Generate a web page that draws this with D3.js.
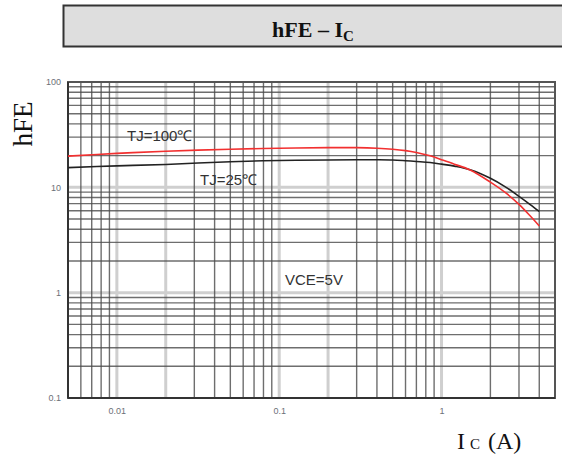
<!DOCTYPE html>
<html><head><meta charset="utf-8">
<script src="https://cdn.jsdelivr.net/npm/d3@7"></script>
<style>body{margin:0;background:#fff;}svg{display:block;}</style>
</head><body>
<svg id="c" width="562" height="458"></svg>
<script>
// ---- data ----
const icValues = [0.005, 0.01, 0.02, 0.05, 0.1, 0.2, 0.3, 0.4, 0.5, 0.6, 0.7, 0.85, 1.0, 1.2, 1.5, 2, 2.5, 3, 3.5, 4];
const hfeTj100 = [19.8, 21, 22, 23, 23.5, 23.8, 23.8, 23.5, 23, 22.3, 21.4, 19.9, 18.3, 16.6, 14.6, 11.2, 8.8, 6.9, 5.4, 4.3];
const hfeTj25  = [15.4, 16, 16.5, 17.5, 18, 18.2, 18.3, 18.3, 18.2, 17.9, 17.6, 17.2, 16.6, 15.9, 14.7, 12.2, 10.0, 8.2, 6.9, 5.9];
const xTickValues = [0.01, 0.1, 1];
const xTickLabels = ["0.01", "0.1", "1"];
const yTickValues = [0.1, 1, 10, 100];
const yTickLabels = ["0.1", "1", "10", "100"];
const xDomain = [0.005, 5];
const yDomain = [0.1, 100];
const seriesNames = ["TJ=100\u2103", "TJ=25\u2103"];
const conditionLabel = "VCE=5V";

// ---- layout ----
const svg = d3.select("#c");
const L = 68, R = 555, T = 82, B = 398;
const x = d3.scaleLog().domain(xDomain).range([L, R]);
const y = d3.scaleLog().domain(yDomain).range([B, T]);

// title box
svg.append("rect").attr("x", 63.5).attr("y", 5.5).attr("width", 505).attr("height", 41)
  .attr("fill", "#dedede").attr("stroke", "#333").attr("stroke-width", 2);
const title = svg.append("text").attr("x", 313).attr("y", 37).attr("text-anchor", "middle")
  .attr("font-family", "Liberation Serif, Times New Roman, serif").attr("font-weight", "bold")
  .attr("font-size", 22).attr("fill", "#111");
title.append("tspan").text("hFE \u2013 I");
title.append("tspan").attr("font-size", 15).attr("dy", 4).text("C");

// grid values
function minorVals(dom) {
  const v = [];
  for (let e = -4; e <= 3; e++) for (let k = 1; k <= 9; k++) {
    const val = +(k * Math.pow(10, e)).toPrecision(3);
    if (val > dom[0] * 1.0001 && val < dom[1] * 0.9999) v.push(val);
  }
  return v;
}
const isDecade = v => Math.abs(Math.log10(v) - Math.round(Math.log10(v))) < 1e-6;
const xLight = v => isDecade(v) || Math.abs(v - 0.02) < 1e-9 || Math.abs(v - 0.2) < 1e-9;
const yLight = v => isDecade(v);

const g = svg.append("g");
const xs = minorVals(xDomain), ys = minorVals(yDomain);
g.selectAll(".vl").data(xs.filter(xLight)).enter().append("line")
  .attr("x1", d => x(d)).attr("x2", d => x(d)).attr("y1", T).attr("y2", B)
  .attr("stroke", "#cfcfcf").attr("stroke-width", 3);
g.selectAll(".hl").data(ys.filter(yLight)).enter().append("line")
  .attr("y1", d => y(d)).attr("y2", d => y(d)).attr("x1", L).attr("x2", R)
  .attr("stroke", "#cfcfcf").attr("stroke-width", 3);
g.selectAll(".vd").data(xs.filter(v => !xLight(v))).enter().append("line")
  .attr("x1", d => x(d)).attr("x2", d => x(d)).attr("y1", T).attr("y2", B)
  .attr("stroke", "#4a4a4a").attr("stroke-opacity", 0.8).attr("stroke-width", 1.4);
g.selectAll(".hd").data(ys.filter(v => !yLight(v))).enter().append("line")
  .attr("y1", d => y(d)).attr("y2", d => y(d)).attr("x1", L).attr("x2", R)
  .attr("stroke", "#4a4a4a").attr("stroke-opacity", 0.8).attr("stroke-width", 1.4);

// frame
svg.append("rect").attr("x", L).attr("y", T).attr("width", R - L).attr("height", B - T)
  .attr("fill", "none").attr("stroke", "#555").attr("stroke-width", 2);
svg.append("line").attr("x1", L).attr("x2", L).attr("y1", T).attr("y2", B).attr("stroke", "#333").attr("stroke-width", 2);
svg.append("line").attr("x1", L).attr("x2", R).attr("y1", B).attr("y2", B).attr("stroke", "#333").attr("stroke-width", 2);

// axes (labels only)
const tickFont = "Liberation Sans, Arial, sans-serif";
const xAxis = d3.axisBottom(x).tickValues(xTickValues).tickFormat((d, i) => xTickLabels[i]).tickSize(0).tickPadding(0);
const xa = svg.append("g").attr("transform", `translate(0,${B + 10})`).call(xAxis);
xa.select(".domain").remove();
xa.selectAll("text").attr("font-family", tickFont).attr("font-size", 9).attr("fill", "#6c7078");
const yAxis = d3.axisLeft(y).tickValues(yTickValues).tickFormat((d, i) => yTickLabels[i]).tickSize(0).tickPadding(0);
const ya = svg.append("g").attr("transform", `translate(${L - 7},0)`).call(yAxis);
ya.select(".domain").remove();
ya.selectAll("text").attr("font-family", tickFont).attr("font-size", 9).attr("fill", "#6c7078");

// curves
const line = d3.line().x(d => x(d[0])).y(d => y(d[1])).curve(d3.curveCatmullRom.alpha(0.5));
svg.append("path").datum(icValues.map((v, i) => [v, hfeTj25[i]])).attr("d", line)
  .attr("fill", "none").attr("stroke", "#222").attr("stroke-width", 1.6);
svg.append("path").datum(icValues.map((v, i) => [v, hfeTj100[i]])).attr("d", line)
  .attr("fill", "none").attr("stroke", "#f23030").attr("stroke-width", 1.6);

// annotations
const annFont = "Liberation Sans, Arial, sans-serif";
svg.append("text").attr("x", 127).attr("y", 141).attr("font-family", annFont).attr("font-size", 15)
  .attr("fill", "#333").text(seriesNames[0]);
svg.append("text").attr("x", 200).attr("y", 185).attr("font-family", annFont).attr("font-size", 15)
  .attr("fill", "#333").text(seriesNames[1]);
svg.append("text").attr("x", 285).attr("y", 285).attr("font-family", annFont).attr("font-size", 15)
  .attr("fill", "#333").text(conditionLabel);

// axis titles
svg.append("text").attr("transform", "translate(32,124) rotate(-90)").attr("text-anchor", "middle")
  .attr("font-family", "Liberation Serif, Times New Roman, serif").attr("font-size", 27).attr("fill", "#111").text("hFE");
const xt = svg.append("text").attr("x", 457).attr("y", 449)
  .attr("font-family", "Liberation Serif, Times New Roman, serif").attr("font-size", 24).attr("fill", "#111");
xt.append("tspan").text("I");
xt.append("tspan").attr("font-size", 15).attr("dx", 5).text("C");
xt.append("tspan").attr("dx", 8).text("(A)");
</script>
</body></html>
